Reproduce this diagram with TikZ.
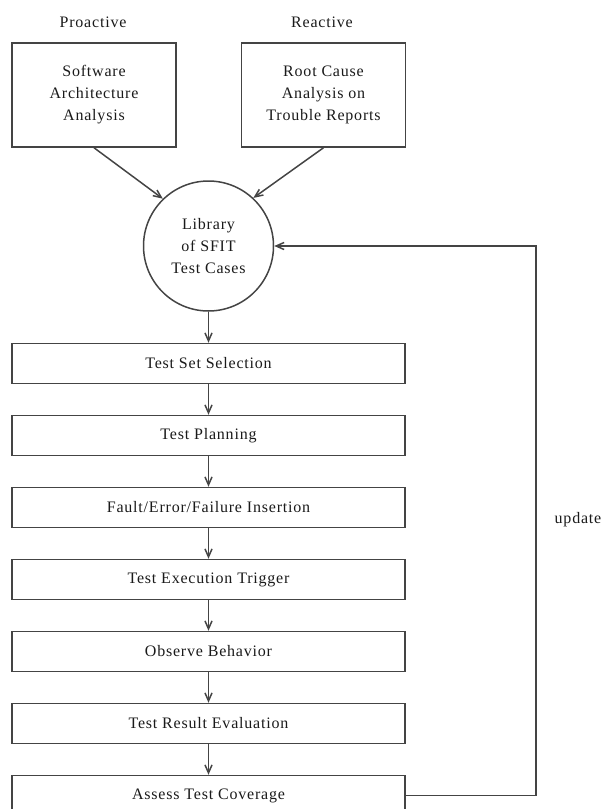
\documentclass[tikz,border=0pt]{standalone}
\usepackage{fontspec}
\setmainfont{Liberation Serif}[LetterSpace=5]
\usetikzlibrary{arrows.meta}
\definecolor{edge}{HTML}{444444}
\definecolor{ink}{HTML}{1A1A1A}
\tikzset{
  every node/.style={text=ink, font=\fontsize{16}{22}\selectfont},
  srcbox/.style={draw=edge, line width=1.5pt, minimum width=164pt, minimum height=104pt, align=center, inner sep=0pt},
  stepbox/.style={draw=edge, line width=1.5pt, minimum width=393pt, minimum height=40pt, inner sep=0pt},
  libcircle/.style={draw=edge, line width=1.5pt, circle, minimum size=130pt, align=center, inner sep=0pt},
  flow/.style={draw=edge, line width=1.5pt, -{Straight Barb[length=8pt,width=7pt]}},
}
\begin{document}
\begin{tikzpicture}[x=1pt,y=-1pt]
  \useasboundingbox (0,0) rectangle (604,809);
  \clip (0,0) rectangle (604,809);

  % sources of test cases
  \node (pro) at (93,22) {Proactive};
  \node (rea) at (322,22) {Reactive};
  \node[srcbox] (saa) at (94,95) {Software\\Architecture\\Analysis};
  \node[srcbox] (rca) at (323.5,95) {Root Cause\\Analysis on\\Trouble Reports};

  % test case library
  \node[libcircle] (lib) at (208.5,246) {Library\\of SFIT\\Test Cases};

  % test procedure
  \node[stepbox] (s1) at (208.5,363.5) {Test Set Selection};
  \node[stepbox] (s2) at (208.5,435.5) {Test Planning};
  \node[stepbox] (s3) at (208.5,507.5) {Fault/Error/Failure Insertion};
  \node[stepbox] (s4) at (208.5,579.5) {Test Execution Trigger};
  \node[stepbox] (s5) at (208.5,651.5) {Observe Behavior};
  \node[stepbox] (s6) at (208.5,723.5) {Test Result Evaluation};
  \node[stepbox] (s7) at (208.5,795.5) {Assess Test Coverage};

  \draw[flow] (saa.south) -- (lib.134);
  \draw[flow] (rca.south) -- (lib.47);
  \draw[flow] (lib.south) -- (s1.north);
  \draw[flow] (s1.south) -- (s2.north);
  \draw[flow] (s2.south) -- (s3.north);
  \draw[flow] (s3.south) -- (s4.north);
  \draw[flow] (s4.south) -- (s5.north);
  \draw[flow] (s5.south) -- (s6.north);
  \draw[flow] (s6.south) -- (s7.north);

  % feedback loop
  \coordinate (fb) at (536,246);
  \draw[flow] (s7.east) -| (fb) -- (lib.east);
  \node (upd) at (578,520) {update};
\end{tikzpicture}
\end{document}
